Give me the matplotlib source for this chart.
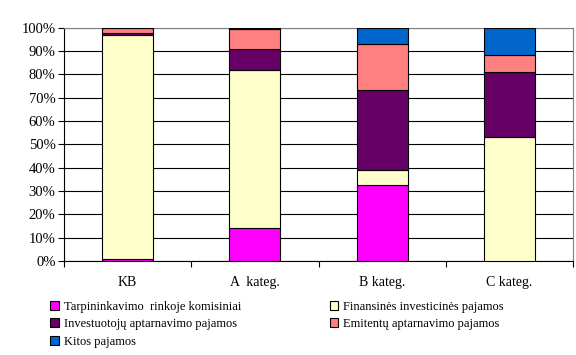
import numpy as np
import matplotlib.pyplot as plt
from matplotlib.patches import Patch

plt.rcParams['font.family'] = ['Liberation Serif', 'DejaVu Serif']

categories = ['KB', 'A  kateg.', 'B kateg.', 'C kateg.']
series_names = ['Tarpininkavimo  rinkoje komisiniai', 'Finansinės investicinės pajamos',
                'Investuotojų aptarnavimo pajamos', 'Emitentų aptarnavimo pajamos',
                'Kitos pajamos']
colors = ['#FF00FF', '#FFFFCC', '#660066', '#FF8080', '#0066CC']

tarpininkavimo = [0.8, 14.3, 32.4, 0.0]
finansines = [96.1, 67.4, 6.4, 53.1]
investuotoju = [0.8, 9.0, 34.3, 27.7]
emitentu = [2.2, 8.8, 19.7, 7.3]
kitos = [0.1, 0.5, 7.2, 11.9]
values = [tarpininkavimo, finansines, investuotoju, emitentu, kitos]

fig = plt.figure(figsize=(5.76, 3.55), dpi=100)
ax = fig.add_axes([0.111, 0.265, 0.884, 0.6575])

x = np.arange(len(categories))
bottom = np.zeros(len(categories))
for vals, c in zip(values, colors):
    ax.bar(x, vals, 0.4, bottom=bottom, color=c, edgecolor='black', linewidth=0.8, zorder=3)
    bottom += np.array(vals)

ax.set_xlim(-0.5, 3.5)
ax.set_ylim(0, 100)
ax.set_yticks(np.arange(0, 101, 10))
ax.set_yticklabels([f'{v}%' for v in range(0, 101, 10)], fontsize=10.5)
ax.yaxis.grid(True, color='black', linewidth=0.8, zorder=0)
ax.set_xticks(x)
ax.set_xticklabels(categories, fontsize=10)
ax.set_xticks(np.arange(-0.5, 4, 1), minor=True)
ax.tick_params(axis='x', which='major', length=0, pad=11)
ax.tick_params(axis='x', which='minor', length=4, width=0.8, direction='out')
ax.tick_params(axis='y', length=4, width=0.8, direction='out', pad=2)
ax.spines['top'].set_color('#808080')
ax.spines['right'].set_color('#808080')

order = [0, 2, 4, 1, 3]
handles = [Patch(facecolor=colors[i], edgecolor='black', linewidth=0.8) for i in order]
labels = [series_names[i] for i in order]
fig.legend(handles, labels, loc='upper left', bbox_to_anchor=(0.068, 0.185), ncol=2,
           frameon=False, fontsize=9, handlelength=0.7, handleheight=0.7,
           handletextpad=0.35, labelspacing=0.45, columnspacing=7.1)

fig.savefig('out.png', dpi=100)
